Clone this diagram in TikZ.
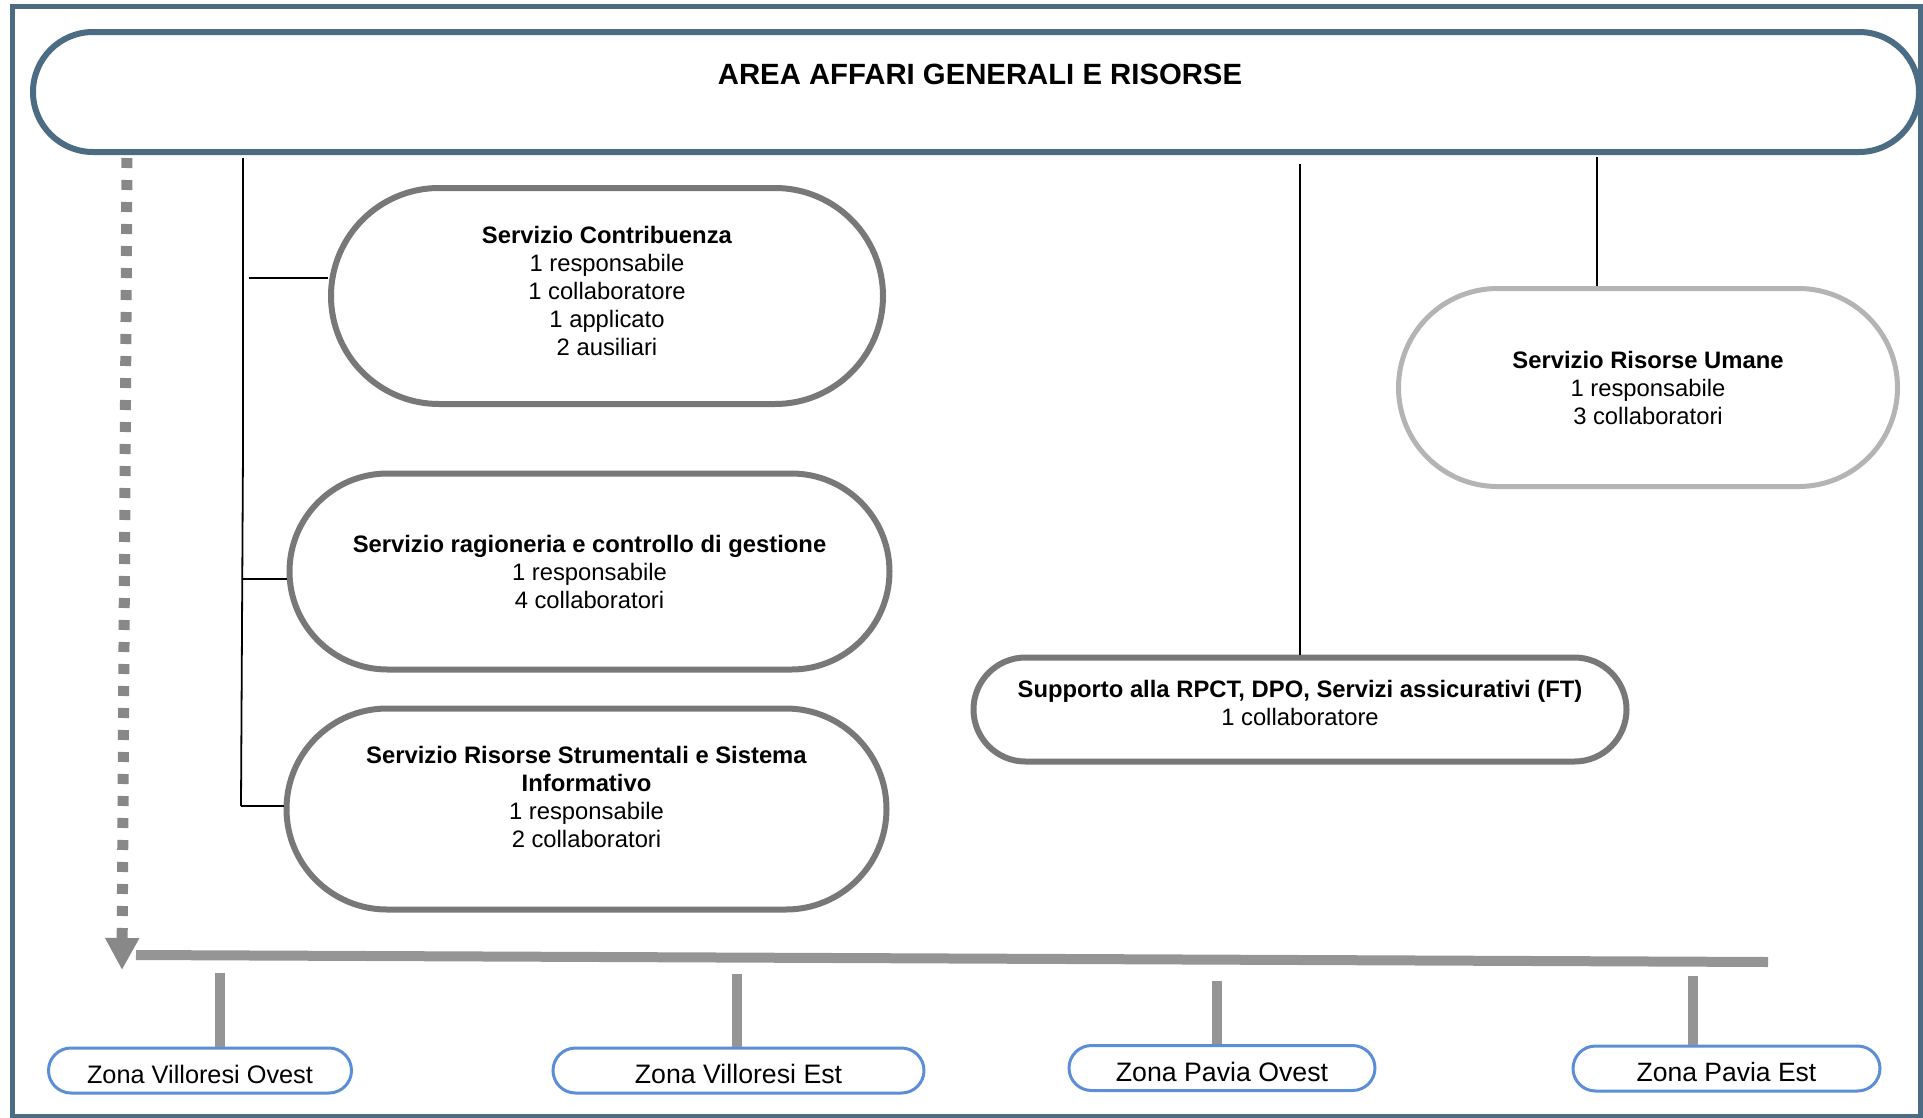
\documentclass[tikz,border=0pt]{standalone}
\usepackage{fontspec}
\setmainfont{Liberation Sans}
\usetikzlibrary{%
  arrows.meta,%
  shapes.misc,% wg. rounded rectangle
  positioning%
}
\definecolor{slate}{RGB}{75,108,130}
\definecolor{pillgray}{RGB}{120,120,120}
\definecolor{lightpill}{RGB}{180,180,180}
\definecolor{zoneblue}{RGB}{91,142,214}
\definecolor{bargray}{RGB}{149,149,149}
\definecolor{dashgray}{RGB}{136,136,136}

\begin{document}
\begin{tikzpicture}
[x=1pt, y=-1pt, font=\fontsize{23.8}{28}\selectfont, >={Triangle[length=32pt, width=32pt]},
service/.style={rounded rectangle, draw=pillgray, line width=6pt, inner sep=0pt},
svctext/.style={align=center, inner sep=0pt},
zone/.style={rounded rectangle, draw=zoneblue, line width=3pt, inner sep=0pt, minimum height=45pt, text height=26pt, text depth=0pt},
link/.style={draw=black, line width=1.8pt},
stub/.style={draw=bargray, line width=10pt}]

\useasboundingbox (0,0) rectangle (1923,1117);
\draw[slate, line width=5pt] (12.5,6) rectangle (1920,1116);

\node[rounded rectangle, draw=slate, line width=6pt, minimum width=1886pt, minimum height=120pt, inner sep=0pt] (area) at (976,92) {};
\node[font=\bfseries\fontsize{29.3}{34}\selectfont] (areatitle) at (980,74) {AREA AFFARI GENERALI E RISORSE};

\node[service, minimum width=552pt, minimum height=216pt,
  label={[svctext, yshift=5pt]center:{\textbf{Servizio Contribuenza}\\1 responsabile\\1 collaboratore\\1 applicato\\2 ausiliari}}]
  (contrib) at (607,296) {};
\node[service, minimum width=600pt, minimum height=196pt,
  label={[svctext]center:{\textbf{Servizio ragioneria e controllo di gestione}\\1 responsabile\\4 collaboratori}}]
  (ragion) at (589.5,571.5) {};
\node[service, minimum width=600pt, minimum height=201pt,
  label={[svctext, yshift=12pt]center:{\textbf{Servizio Risorse Strumentali e Sistema}\\\textbf{Informativo}\\1 responsabile\\2 collaboratori}}]
  (strum) at (586.5,809) {};
\node[service, draw=lightpill, line width=5pt, minimum width=499pt, minimum height=198pt,
  label={[svctext]center:{\textbf{Servizio Risorse Umane}\\1 responsabile\\3 collaboratori}}]
  (umane) at (1648,387.5) {};
\node[service, minimum width=653pt, minimum height=104pt,
  label={[svctext, yshift=7pt]center:{\textbf{Supporto alla RPCT, DPO, Servizi assicurativi (FT)}\\1 collaboratore}}]
  (supporto) at (1300,709.5) {};

% linee di collegamento
\coordinate (t0) at (243,158);
\coordinate (t1) at (243,450);
\coordinate (t2) at (241,806);
\draw[link] (t0) -- (t1) -- (t2);
\coordinate (b1) at (249,278);
\coordinate (b2) at (243,579);
\draw[link] (b1) -- (b1 -| contrib.west);
\draw[link] (b2) -- (b2 -| ragion.west);
\draw[link] (t2) -- (t2 -| strum.west);
\coordinate (s0) at (1300,164);
\draw[link] (s0) -- (supporto.north);
\coordinate (u0) at (1597,157);
\draw[link] (u0) -- (u0 |- umane.north);

% freccia tratteggiata e barra delle zone
\coordinate (dtop) at (127,158);
\coordinate (dtip) at (122,970);
\draw[->, dashgray, line width=11pt, dash pattern=on 10pt off 12pt] (dtop) -- (dtip);
\coordinate (barL) at (136,955);
\coordinate (barR) at (1768,962);
\draw[stub] (barL) -- (barR);

\foreach \n/\x/\y/\w/\f/\t in {zvo/200/1070.5/303/25.3/Zona Villoresi Ovest, zve/738.5/1070.5/371/26.7/Zona Villoresi Est,
  zpo/1222/1068/306/26.7/Zona Pavia Ovest, zpe/1726.5/1068.5/307/26.5/Zona Pavia Est}
  \node[zone, minimum width=\w pt, font=\fontsize{\f}{30}\selectfont] (\n) at (\x,\y) {\t};

\foreach \n/\x/\y in {zvo/220/973, zve/737/974, zpo/1217/981, zpe/1693/976}
  \draw[stub] (\x,\y) -- (\x,\y |- \n.north);
\end{tikzpicture}
\end{document}
